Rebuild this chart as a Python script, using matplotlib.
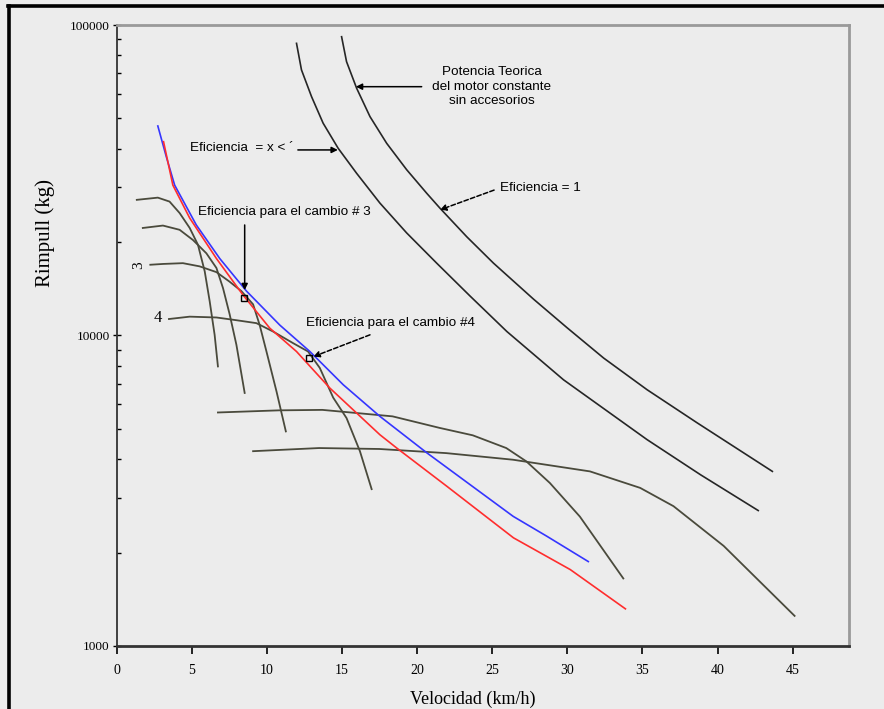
import matplotlib
matplotlib.use('Agg')
import matplotlib.pyplot as plt
from matplotlib.ticker import FixedLocator, FixedFormatter, NullFormatter

# readings from the picture: velocity (km/h) and rimpull (kg)
v_ef1 = [14.98, 15.31, 15.98, 16.87, 17.98, 19.31, 20.65, 21.53, 23.31, 25.09,
         27.75, 29.98, 32.42, 35.31, 38.65, 43.65]
r_ef1 = [91700, 76200, 62600, 50700, 41600, 34200, 28700, 25700, 20800, 17100,
         13100, 10600, 8460, 6690, 5230, 3650]

v_efx = [11.98, 12.31, 12.98, 13.75, 14.75, 15.98, 17.53, 19.31, 21.31, 23.53,
         25.98, 29.75, 35.31, 38.87, 42.71]
r_efx = [87300, 71700, 58800, 48300, 40100, 33300, 26700, 21400, 17100, 13400,
         10300, 7200, 4620, 3560, 2730]

v_blue = [2.75, 3.31, 3.87, 5.31, 6.87, 8.65, 10.87, 12.87, 15.09, 17.53, 20.65,
          26.40, 28.65, 31.40]
r_blue = [47300, 37700, 30500, 22700, 17700, 13900, 10800, 8880, 6940, 5490, 4190,
          2615, 2255, 1870]

v_red = [3.13, 3.75, 4.87, 6.65, 8.42, 10.20, 11.98, 14.20, 17.53, 18.65, 21.98,
         26.42, 30.20, 33.87]
r_red = [42100, 30500, 23900, 17700, 13500, 10560, 8880, 6770, 4790, 4340, 3270,
         2230, 1762, 1317]

v_g1 = [1.35, 2.75, 3.53, 4.20, 4.87, 5.42, 5.87, 6.20, 6.53, 6.75]
r_g1 = [27350, 27800, 27000, 24800, 22200, 19600, 16100, 12900, 10050, 7950]

v_g2 = [1.75, 3.09, 4.20, 5.09, 5.98, 6.65, 7.09, 7.53, 7.98, 8.53]
r_g2 = [22200, 22600, 21900, 20300, 18400, 16500, 14200, 11700, 9330, 6530]

v_g3 = [2.25, 3.09, 4.42, 5.53, 6.65, 7.53, 8.31, 9.09, 9.53, 9.98, 10.65, 11.27]
r_g3 = [16900, 17000, 17100, 16700, 16000, 14900, 13900, 12600, 10800, 8880, 6600, 4910]

v_g4 = [3.49, 4.87, 6.65, 7.98, 9.31, 10.42, 11.75, 12.75, 13.53, 14.42, 15.31,
        16.20, 16.98]
r_g4 = [11300, 11500, 11430, 11200, 10960, 10300, 9450, 8880, 7860, 6310, 5420,
        4240, 3200]

v_g5 = [6.75, 10.81, 13.70, 15.93, 18.37, 21.50, 23.71, 25.94, 27.28, 28.84, 30.84, 33.73]
r_g5 = [5650, 5740, 5760, 5630, 5490, 5040, 4770, 4340, 3930, 3350, 2610, 1650]

v_g6 = [9.09, 13.48, 17.49, 21.94, 26.39, 31.51, 34.85, 37.07, 40.41, 45.13]
r_g6 = [4240, 4340, 4310, 4180, 3980, 3650, 3230, 2820, 2100, 1250]

# efficiency points for shifts 3 and 4
v_pts = [8.47, 12.82]
r_pts = [13200, 8450]

x_ticks = [0, 5, 10, 15, 20, 25, 30, 35, 40, 45]
y_ticks = [1000, 10000, 100000]
y_labels = ['1000', '10000', '100000']

bg = '#ececec'
gear_col = '#4a4a3c'
theo_col = '#262626'
serif = ['Liberation Serif', 'DejaVu Serif']
sans = ['Liberation Sans', 'DejaVu Sans']

fig = plt.figure(figsize=(8.84, 7.09), dpi=100, facecolor=bg)
ax = fig.add_axes([0.1318, 0.0889, 0.8286, 0.8758], facecolor=bg)

# outer frame (only left and top edges are visible)
fig.add_artist(plt.Line2D([0.0107, 0.0107], [0.0, 0.992], color='black', lw=2.6,
                          transform=fig.transFigure))
fig.add_artist(plt.Line2D([0.0093, 1.0], [0.992, 0.992], color='black', lw=2.6,
                          transform=fig.transFigure))

for vs, rs in [(v_g1, r_g1), (v_g2, r_g2), (v_g3, r_g3),
               (v_g4, r_g4), (v_g5, r_g5), (v_g6, r_g6)]:
    ax.plot(vs, rs, color=gear_col, lw=1.3, solid_joinstyle='round')

ax.plot(v_ef1, r_ef1, color=theo_col, lw=1.2, solid_joinstyle='round')
ax.plot(v_efx, r_efx, color=theo_col, lw=1.2, solid_joinstyle='round')
ax.plot(v_blue, r_blue, color='#3535ff', lw=1.2, solid_joinstyle='round')
ax.plot(v_red, r_red, color='#ff2d2d', lw=1.2, solid_joinstyle='round')
ax.plot(v_pts, r_pts, ls='none', marker='s', ms=4, mfc='none', mec='black', mew=1.0)

ax.set_yscale('log')
ax.set_xlim(0, 48.75)
ax.set_ylim(1000, 100000)

ax.xaxis.set_major_locator(FixedLocator(x_ticks))
ax.set_xticklabels([str(t) for t in x_ticks], family=serif, fontsize=10)
ax.yaxis.set_major_locator(FixedLocator(y_ticks))
ax.yaxis.set_major_formatter(FixedFormatter(y_labels))
ax.yaxis.set_minor_formatter(NullFormatter())
for lbl in ax.get_yticklabels():
    lbl.set_family(serif)
    lbl.set_fontsize(9.5)
ax.tick_params(axis='x', which='major', direction='out', length=6, width=1.2, pad=7)
ax.tick_params(axis='y', which='major', direction='inout', length=6, width=1.0, pad=2)
ax.tick_params(axis='y', which='minor', direction='in', length=3, width=1.0)
ax.tick_params(axis='x', which='minor', bottom=False)

ax.spines['left'].set_color('#333333')
ax.spines['bottom'].set_color('#333333')
ax.spines['bottom'].set_linewidth(2.0)
ax.spines['left'].set_linewidth(1.3)
for s in ['top', 'right']:
    ax.spines[s].set_color('#9a9a9a')
    ax.spines[s].set_linewidth(2.0)

fig.text(0.051, 0.671, 'Rimpull (kg)', family=serif, fontsize=15,
         rotation=90, ha='center', va='center')
fig.text(0.535, 0.002, 'Velocidad (km/h)', family=serif, fontsize=13,
         ha='center', va='bottom')

arrow = dict(arrowstyle='-|>', color='black', lw=1.1, mutation_scale=9,
             shrinkA=0, shrinkB=0)
dashed = dict(arrow, ls=(0, (3, 1.5)))
fs = 9.7

ax.text(24.98, 63300, 'Potencia Teorica\ndel motor constante\nsin accesorios',
        family=sans, fontsize=fs, ha='center', va='center', linespacing=1.25)
ax.annotate('', xy=(15.93, 63300), xytext=(20.31, 63300), arrowprops=arrow)

ax.text(4.87, 40200, 'Eficiencia  = x < \u00b4', family=sans, fontsize=fs,
        ha='left', va='center')
ax.annotate('', xy=(14.73, 39600), xytext=(12.07, 39600), arrowprops=arrow)

ax.text(25.53, 29900, 'Eficiencia = 1', family=sans, fontsize=fs,
        ha='left', va='center')
ax.annotate('', xy=(21.53, 25400), xytext=(25.13, 29400), arrowprops=dashed)

ax.text(5.4, 25000, 'Eficiencia para el cambio # 3', family=sans, fontsize=fs,
        ha='left', va='center')
ax.annotate('', xy=(8.53, 14000), xytext=(8.53, 22700), arrowprops=arrow)

ax.text(12.6, 11000, 'Eficiencia para el cambio #4', family=sans, fontsize=fs,
        ha='left', va='center')
ax.annotate('', xy=(13.1, 8550), xytext=(16.87, 10050), arrowprops=dashed)

ax.text(1.5, 16900, '3', family=serif, fontsize=11, rotation=90,
        ha='center', va='center')
ax.text(2.75, 11400, '4', family=serif, fontsize=12, ha='center', va='center')

fig.savefig('out.png', dpi=100, facecolor=bg)
